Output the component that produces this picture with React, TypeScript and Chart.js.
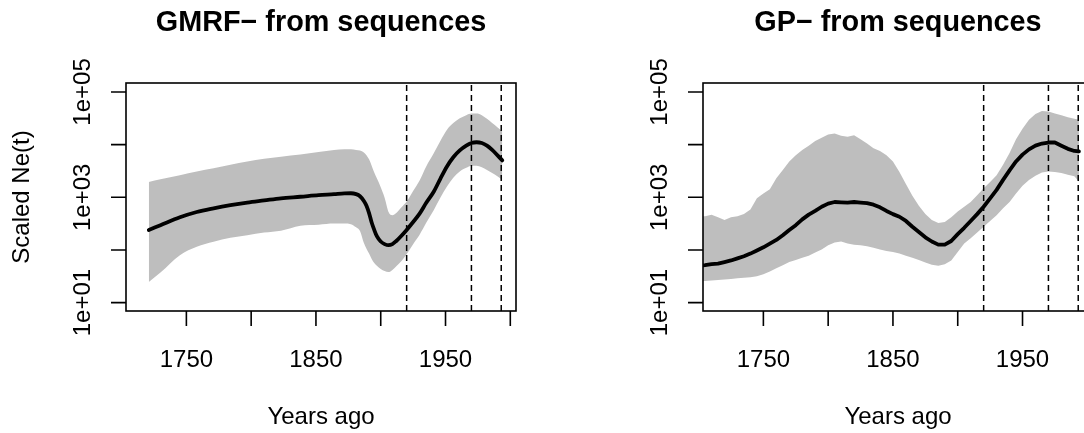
import React, { useEffect, useRef } from "react";
import { Chart, registerables } from "chart.js";

Chart.register(...registerables);

const FONT = '"Liberation Sans", Arial, Helvetica, sans-serif';

// Axis ranges and ticks
const X_MIN = 1703.4;
const X_MAX = 2004.4;
const Y_MIN = 6.92;
const Y_MAX = 148000;
const X_TICKS = [1750, 1800, 1850, 1900, 1950, 2000];
const X_TICK_LABELS = ["1750", "", "1850", "", "1950", ""];
const Y_TICKS = [10, 100, 1000, 10000, 100000];
const Y_TICK_LABELS = ["1e+01", "", "1e+03", "", "1e+05"];
const EVENT_YEARS = [1920, 1970, 1993];

const TITLE_GMRF = "GMRF\u2212 from sequences";
const TITLE_GP = "GP\u2212 from sequences";
const X_TITLE = "Years ago";
const Y_TITLE = "Scaled Ne(t)";

// GMRF panel (values are log10 of scaled Ne(t))
const GMRF_YEARS = [1721, 1730, 1745, 1758, 1771, 1784, 1797, 1810, 1823, 1838, 1852, 1864, 1872, 1877, 1881, 1884, 1887, 1889, 1891, 1893, 1895, 1897, 1900, 1903, 1906, 1909, 1912, 1916, 1920, 1925, 1930, 1935, 1941, 1946, 1951, 1956, 1961, 1966, 1970, 1974, 1978, 1982, 1986, 1990, 1993.8];
const GMRF_MEDIAN_LOG10 = [2.38, 2.47, 2.62, 2.72, 2.79, 2.85, 2.9, 2.94, 2.98, 3.01, 3.04, 3.06, 3.075, 3.076, 3.06, 3.02, 2.93, 2.84, 2.7, 2.52, 2.38, 2.26, 2.16, 2.11, 2.09, 2.11, 2.17, 2.27, 2.38, 2.53, 2.69, 2.89, 3.11, 3.35, 3.58, 3.76, 3.89, 3.98, 4.03, 4.045, 4.03, 3.98, 3.9, 3.8, 3.7];
const GMRF_UPPER_LOG10 = [3.29, 3.34, 3.42, 3.49, 3.55, 3.62, 3.68, 3.73, 3.77, 3.81, 3.86, 3.9, 3.91, 3.91, 3.9, 3.89, 3.85, 3.8, 3.72, 3.6, 3.47, 3.36, 3.19, 2.99, 2.72, 2.66, 2.7, 2.81, 2.92, 3.12, 3.32, 3.58, 3.84, 4.07, 4.28, 4.41, 4.5, 4.56, 4.59, 4.59, 4.56, 4.49, 4.41, 4.33, 4.25];
const GMRF_LOWER_LOG10 = [1.39, 1.57, 1.9, 2.06, 2.155, 2.23, 2.28, 2.33, 2.365, 2.46, 2.48, 2.5, 2.5, 2.49, 2.43, 2.36, 2.13, 2.02, 1.93, 1.83, 1.75, 1.7, 1.64, 1.6, 1.58, 1.62, 1.69, 1.79, 1.92, 2.11, 2.29, 2.51, 2.76, 2.99, 3.2, 3.37, 3.49, 3.56, 3.6, 3.6, 3.57, 3.52, 3.46, 3.4, 3.33];

// GP panel (values are log10 of scaled Ne(t))
const GP_YEARS = [1700, 1705, 1710, 1715, 1720, 1725, 1730, 1735, 1740, 1745, 1750, 1755, 1760, 1765, 1770, 1775, 1780, 1785, 1790, 1795, 1800, 1805, 1810, 1815, 1820, 1825, 1830, 1835, 1840, 1845, 1850, 1855, 1860, 1865, 1870, 1875, 1880, 1885, 1890, 1895, 1900, 1905, 1910, 1915, 1920, 1925, 1930, 1935, 1940, 1945, 1950, 1955, 1960, 1965, 1970, 1975, 1980, 1985, 1990, 1993.5];
const GP_MEDIAN_LOG10 = [1.7, 1.71, 1.73, 1.74, 1.77, 1.8, 1.84, 1.88, 1.93, 1.99, 2.05, 2.12, 2.19, 2.28, 2.38, 2.47, 2.58, 2.67, 2.74, 2.82, 2.88, 2.91, 2.905, 2.9, 2.91, 2.9, 2.89, 2.86, 2.81, 2.74, 2.68, 2.63, 2.55, 2.44, 2.34, 2.24, 2.16, 2.1, 2.1, 2.17, 2.3, 2.42, 2.55, 2.68, 2.82, 2.98, 3.14, 3.33, 3.51, 3.68, 3.81, 3.91, 3.98, 4.02, 4.04, 4.04, 3.98, 3.92, 3.88, 3.87];
const GP_UPPER_LOG10 = [2.64, 2.64, 2.67, 2.62, 2.57, 2.62, 2.64, 2.68, 2.77, 2.98, 3.07, 3.15, 3.36, 3.52, 3.68, 3.8, 3.9, 3.98, 4.07, 4.13, 4.19, 4.21, 4.17, 4.15, 4.18, 4.1, 4.02, 3.93, 3.88, 3.8, 3.68, 3.48, 3.25, 3.03, 2.84, 2.68, 2.57, 2.51, 2.53, 2.62, 2.73, 2.82, 2.91, 3.04, 3.17, 3.29, 3.42, 3.62, 3.84, 4.1, 4.3, 4.47, 4.58, 4.64, 4.63, 4.59, 4.56, 4.52, 4.49, 4.47];
const GP_LOWER_LOG10 = [1.41, 1.41, 1.42, 1.43, 1.44, 1.45, 1.46, 1.47, 1.48, 1.5, 1.54, 1.59, 1.65, 1.71, 1.77, 1.81, 1.85, 1.89, 1.95, 2.01, 2.09, 2.14, 2.16, 2.12, 2.1, 2.09, 2.07, 2.04, 2.01, 1.98, 1.96, 1.93, 1.89, 1.85, 1.81, 1.76, 1.72, 1.7, 1.73, 1.8, 1.96, 2.12, 2.22, 2.33, 2.44, 2.55, 2.66, 2.79, 2.91, 3.07, 3.22, 3.33, 3.41, 3.47, 3.49, 3.48, 3.46, 3.43, 3.4, 3.3];

type PanelProps = {
  left: number;
  title: string;
  years: number[];
  median: number[];
  upper: number[];
  lower: number[];
  showYTitle: boolean;
  smooth: boolean;
};

function Panel({ left, title, years, median, upper, lower, showYTitle, smooth }: PanelProps) {
  const ref = useRef<HTMLCanvasElement>(null);

  useEffect(() => {
    if (!ref.current) return;
    const toPts = (arr: number[]) => arr.map((v, i) => ({ x: years[i], y: Math.pow(10, v) }));
    const interp = smooth ? "monotone" : "default";

    const datasets: any[] = [];
    EVENT_YEARS.forEach((yr) => {
      datasets.push({
        data: [
          { x: yr, y: Y_MIN },
          { x: yr, y: Y_MAX },
        ],
        borderColor: "#000",
        borderWidth: 1.5,
        borderDash: [6, 4],
        pointRadius: 0,
        fill: false,
        order: 0,
        clip: 0,
      });
    });
    datasets.push({
      data: toPts(median),
      borderColor: "#000",
      borderWidth: 3.8,
      pointRadius: 0,
      fill: false,
      order: 1,
      clip: 0,
      cubicInterpolationMode: interp,
      tension: 0,
      borderCapStyle: "round",
      borderJoinStyle: "round",
    });
    datasets.push({
      data: toPts(upper),
      borderColor: "rgba(0,0,0,0)",
      borderWidth: 0,
      backgroundColor: "#BEBEBE",
      pointRadius: 0,
      fill: "+1",
      order: 2,
      clip: 0,
      cubicInterpolationMode: interp,
      tension: 0,
    });
    datasets.push({
      data: toPts(lower),
      borderColor: "rgba(0,0,0,0)",
      borderWidth: 0,
      pointRadius: 0,
      fill: false,
      order: 3,
      clip: 0,
      cubicInterpolationMode: interp,
      tension: 0,
    });

    const rAxes = {
      id: "rAxes",
      afterDraw(chart: any) {
        const ctx = chart.ctx;
        const ca = chart.chartArea;
        const xs = chart.scales.x;
        const ys = chart.scales.y;
        ctx.save();
        ctx.strokeStyle = "#000";
        ctx.lineWidth = 1.6;
        ctx.strokeRect(ca.left, ca.top, ca.right - ca.left, ca.bottom - ca.top);
        ctx.beginPath();
        X_TICKS.forEach((v) => {
          const px = xs.getPixelForValue(v);
          ctx.moveTo(px, ca.bottom);
          ctx.lineTo(px, ca.bottom + 15);
        });
        Y_TICKS.forEach((v) => {
          const py = ys.getPixelForValue(v);
          ctx.moveTo(ca.left, py);
          ctx.lineTo(ca.left - 15, py);
        });
        ctx.stroke();

        ctx.fillStyle = "#000";
        ctx.font = `24px ${FONT}`;
        ctx.textAlign = "center";
        ctx.textBaseline = "alphabetic";
        X_TICKS.forEach((v, i) => {
          const lab = X_TICK_LABELS[i];
          if (lab) ctx.fillText(lab, xs.getPixelForValue(v), ca.bottom + 56);
        });
        Y_TICKS.forEach((v, i) => {
          const lab = Y_TICK_LABELS[i];
          if (!lab) return;
          ctx.save();
          ctx.translate(ca.left - 36.5, ys.getPixelForValue(v));
          ctx.rotate(-Math.PI / 2);
          ctx.fillText(lab, 0, 0);
          ctx.restore();
        });
        const cx = (ca.left + ca.right) / 2;
        const cy = (ca.top + ca.bottom) / 2;
        ctx.fillText(X_TITLE, cx, ca.bottom + 113);
        if (showYTitle) {
          ctx.save();
          ctx.translate(ca.left - 97.5, cy);
          ctx.rotate(-Math.PI / 2);
          ctx.fillText(Y_TITLE, 0, 0);
          ctx.restore();
        }
        ctx.font = `bold 28.8px ${FONT}`;
        ctx.fillText(title, cx, ca.top - 52);
        ctx.restore();
      },
    };

    const chart = new Chart(ref.current, {
      type: "line",
      data: { datasets },
      options: {
        animation: false,
        responsive: false,
        devicePixelRatio: 1,
        events: [],
        layout: { padding: { left: 126, right: 62, top: 83, bottom: 122 } },
        scales: {
          x: { type: "linear", min: X_MIN, max: X_MAX, display: false },
          y: { type: "logarithmic", min: Y_MIN, max: Y_MAX, display: false },
        },
        plugins: {
          legend: { display: false },
          tooltip: { enabled: false },
          title: { display: false },
        },
      },
      plugins: [rAxes],
    });
    return () => chart.destroy();
  }, [title, years, median, upper, lower, showYTitle, smooth]);

  return (
    <canvas
      ref={ref}
      width={578}
      height={433}
      style={{ position: "absolute", left, top: 0, width: 578, height: 433 }}
    />
  );
}

export default function App() {
  return (
    <div
      style={{
        position: "fixed",
        left: 0,
        top: 0,
        width: 1084,
        height: 433,
        overflow: "hidden",
        background: "#fff",
      }}
    >
      <Panel
        left={0}
        title={TITLE_GMRF}
        years={GMRF_YEARS}
        median={GMRF_MEDIAN_LOG10}
        upper={GMRF_UPPER_LOG10}
        lower={GMRF_LOWER_LOG10}
        showYTitle={true}
        smooth={true}
      />
      <Panel
        left={577}
        title={TITLE_GP}
        years={GP_YEARS}
        median={GP_MEDIAN_LOG10}
        upper={GP_UPPER_LOG10}
        lower={GP_LOWER_LOG10}
        showYTitle={false}
        smooth={false}
      />
    </div>
  );
}
